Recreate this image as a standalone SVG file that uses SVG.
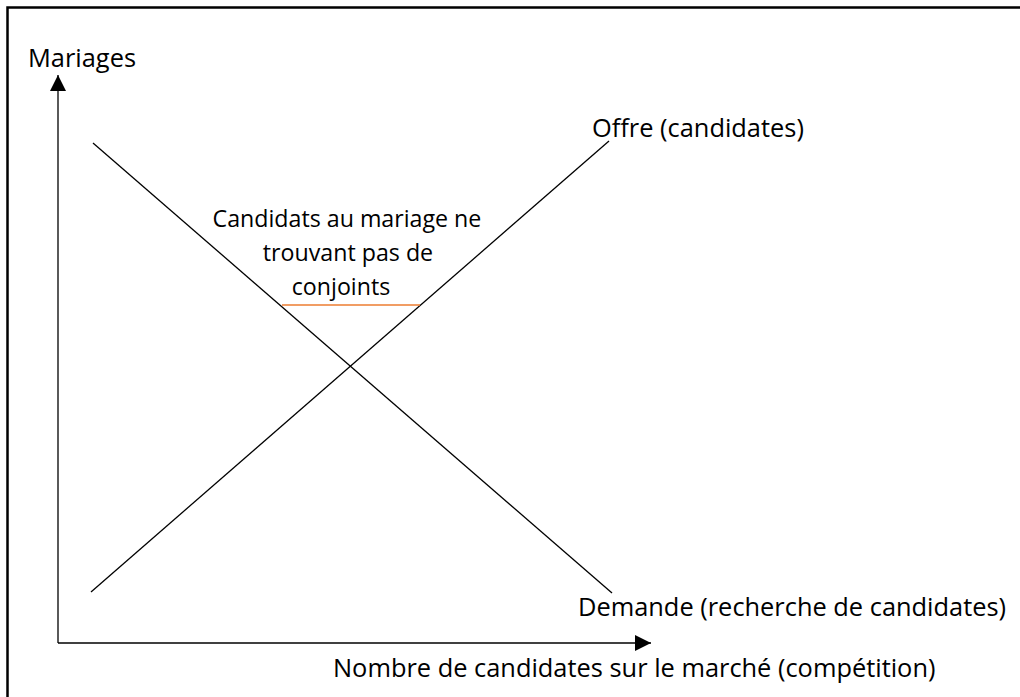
<svg xmlns="http://www.w3.org/2000/svg" width="1020" height="697" viewBox="0 0 1020 697">
<defs>
<marker id="arr" viewBox="0 0 10 10" refX="10" refY="5" markerWidth="16" markerHeight="16" markerUnits="userSpaceOnUse" orient="auto">
<path d="M0,0 L10,5 L0,10 z" fill="#000"/>
</marker>
<style>
.t{font-family:"Open Sans","Liberation Sans",sans-serif;font-size:25.4px;fill:#000}
.c{font-family:"Open Sans","Liberation Sans",sans-serif;font-size:23.2px;fill:#000}
.ln{stroke:#000;stroke-width:1.3;fill:none}
</style>
</defs>
<rect x="0" y="0" width="1020" height="697" fill="#fff"/>
<g id="frame"><path d="M7.5,697 L7.5,7.5 L1020,7.5" fill="none" stroke="#000" stroke-width="2.5"/></g>
<g id="connectors">
<line class="ln" x1="58" y1="643" x2="58" y2="75" marker-end="url(#arr)"/>
<line class="ln" x1="58" y1="643" x2="651" y2="643" marker-end="url(#arr)"/>
<line class="ln" x1="91" y1="592" x2="609" y2="141"/>
<line class="ln" x1="93" y1="143" x2="612" y2="593"/>
<line x1="282" y1="305" x2="420" y2="305" stroke="#ED7D31" stroke-width="1.5"/>
</g>
<g id="label-y"><text class="t" x="28" y="67">Mariages</text></g>
<g id="label-x"><text class="t" x="333" y="677">Nombre de candidates sur le marché (compétition)</text></g>
<g id="label-offre"><text class="t" x="592" y="137">Offre (candidates)</text></g>
<g id="label-demande"><text class="t" x="578" y="616">Demande (recherche de candidates)</text></g>
<g id="label-gap"><text class="c" text-anchor="middle">
<tspan x="350" y="227">Candidats au mariage ne</tspan>
<tspan x="351" y="261">trouvant pas de</tspan>
<tspan x="341" y="295">conjoints</tspan>
</text></g>
</svg>
